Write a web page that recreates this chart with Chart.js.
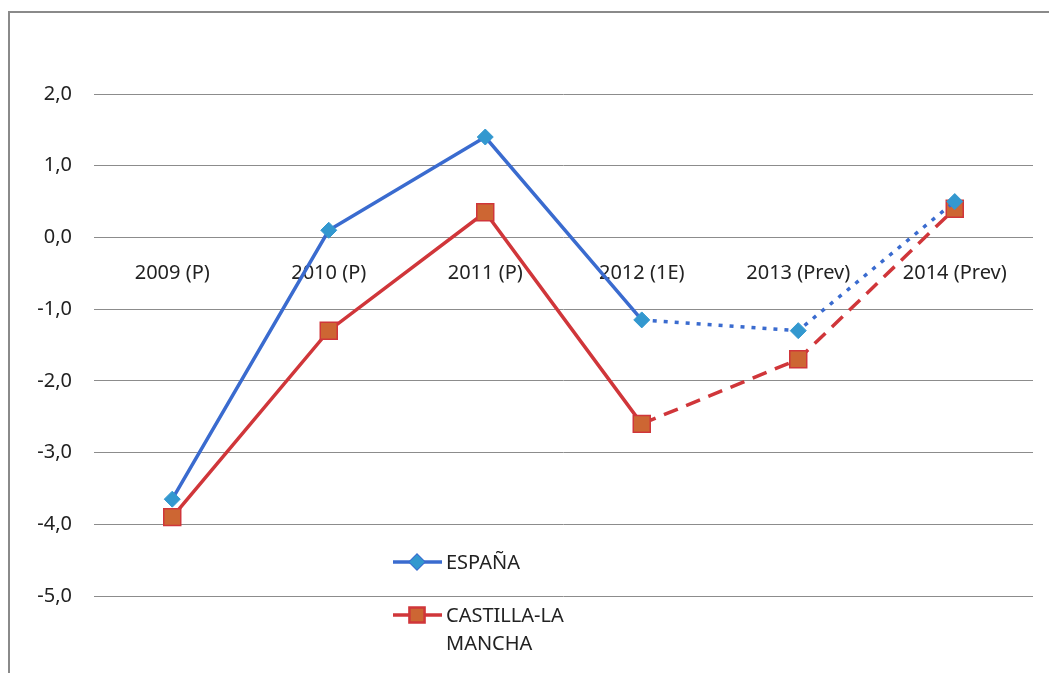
<!DOCTYPE html>
<html>
<head>
<meta charset="utf-8">
<script src="https://cdn.jsdelivr.net/npm/chart.js@4/dist/chart.umd.min.js"></script>
<style>
  html, body { margin: 0; padding: 0; background: #fff; }
  #wrap { position: relative; width: 1049px; height: 673px; }
  #frame { position: absolute; left: 8px; top: 11px; right: 0; bottom: 0;
           border-left: 2px solid #8a8a8a; border-top: 2px solid #8a8a8a; }
</style>
</head>
<body>
<div id="wrap">
  <div id="frame"></div>
  <canvas id="myChart"></canvas>
</div>
<script>
const categories = ["2009 (P)", "2010 (P)", "2011 (P)", "2012 (1E)", "2013 (Prev)", "2014 (Prev)"];
const espana = [-3.65, 0.1, 1.4, -1.15, -1.3, 0.5];
const castillaLaMancha = [-3.9, -1.3, 0.35, -2.6, -1.7, 0.4];
const yTicks = [2, 1, 0, -1, -2, -3, -4, -5];
const firstForecast = 3; // from 2012 on the line is drawn broken

const FONT = "'Noto Sans', 'Open Sans', sans-serif";
const TEXT = "#222222";

// legend drawn inside the plot area, like the original
const legendPlugin = {
    id: "floatLegend",
    afterDraw(chart) {
        const ctx = chart.ctx;
        const items = [
            { ds: chart.data.datasets[0], lines: ["ESPAÑA"], y: 562 },
            { ds: chart.data.datasets[1], lines: ["CASTILLA-LA", "MANCHA"], y: 615 }
        ];
        ctx.save();
        items.forEach(it => {
            const ds = it.ds;
            ctx.strokeStyle = ds.borderColor;
            ctx.lineWidth = ds.borderWidth;
            ctx.beginPath();
            ctx.moveTo(393, it.y);
            ctx.lineTo(442, it.y);
            ctx.stroke();
            Chart.helpers.drawPoint(ctx, {
                pointStyle: ds.pointStyle,
                radius: ds.pointStyle === "rect" ? 10 : 6.5,
                borderWidth: 1.5
            }, 417, it.y);
            ctx.fillStyle = ds.pointBackgroundColor;
            ctx.strokeStyle = ds.pointBorderColor;
            ctx.lineWidth = 1.5;
            ctx.fill();
            ctx.stroke();
            ctx.fillStyle = TEXT;
            ctx.font = "20px " + FONT;
            ctx.textBaseline = "middle";
            it.lines.forEach((t, i) => ctx.fillText(t, 446, it.y + 1 + i * 28));
        });
        ctx.restore();
    }
};

const ctx = document.getElementById("myChart").getContext("2d");
new Chart(ctx, {
    type: "line",
    data: {
        labels: categories,
        datasets: [{
            label: "ESPAÑA",
            data: espana,
            borderColor: "#3a6bcf",
            borderWidth: 3.5,
            pointStyle: "rectRot",
            pointRadius: 8,
            pointBackgroundColor: "#3398cf",
            pointBorderColor: "#3398cf",
            pointBorderWidth: 1,
            segment: {
                borderDash: c => c.p0DataIndex >= firstForecast ? [4, 7] : undefined
            }
        }, {
            label: "CASTILLA-LA MANCHA",
            data: castillaLaMancha,
            borderColor: "#d0363a",
            borderWidth: 3.5,
            pointStyle: "rect",
            pointRadius: 12,
            pointBackgroundColor: "#cd6633",
            pointBorderColor: "#d0363a",
            pointBorderWidth: 1.5,
            segment: {
                borderDash: c => c.p0DataIndex >= firstForecast ? [15, 9] : undefined
            }
        }]
    },
    options: {
        responsive: true,
        maintainAspectRatio: false,
        animation: false,
        layout: { padding: { top: 94, bottom: 77, left: 10, right: 16 } },
        plugins: { legend: { display: false }, tooltip: { enabled: false } },
        scales: {
            x: {
                position: { y: 0 },
                offset: true,
                grid: { display: false, drawTicks: false },
                border: { display: false },
                ticks: { color: TEXT, font: { family: FONT, size: 20 }, padding: 24, maxRotation: 0 }
            },
            y: {
                min: -5,
                max: 2,
                afterFit: s => { s.width = 84; },
                afterBuildTicks: s => { s.ticks = yTicks.map(v => ({ value: v })); },
                grid: { color: "#8c8c8c", lineWidth: 1, drawTicks: false },
                border: { display: false },
                ticks: {
                    color: TEXT,
                    font: { family: FONT, size: 20 },
                    padding: 22,
                    callback: v => v.toFixed(1).replace(".", ",")
                }
            }
        }
    },
    plugins: [legendPlugin]
});
</script>
</body>
</html>
